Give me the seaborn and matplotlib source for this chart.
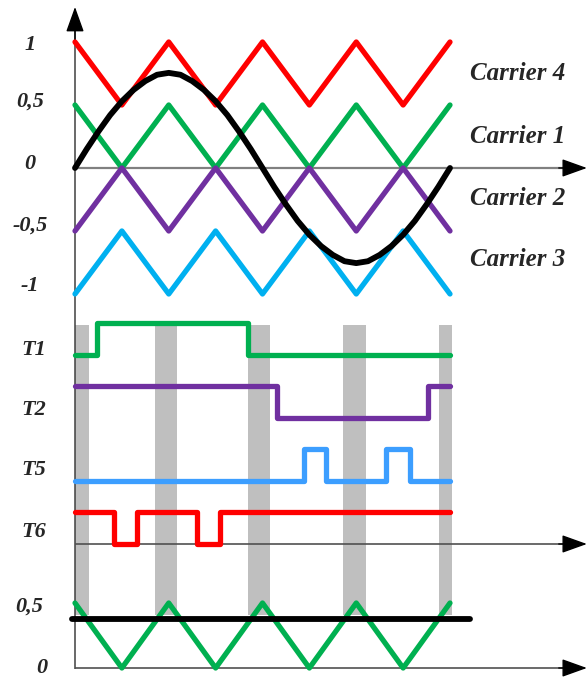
import matplotlib
matplotlib.use("Agg")
import matplotlib.pyplot as plt
import seaborn as sns

# ==========================================
# DATA (time in carrier periods)
# ==========================================
# carrier vertices, one every half period
t_carrier = [0, 0.5, 1, 1.5, 2, 2.5, 3, 3.5, 4]
carrier4 = [1, 0.5, 1, 0.5, 1, 0.5, 1, 0.5, 1]
carrier1 = [0.5, 0, 0.5, 0, 0.5, 0, 0.5, 0, 0.5]
carrier2 = [-0.5, 0, -0.5, 0, -0.5, 0, -0.5, 0, -0.5]
carrier3 = [-1, -0.5, -1, -0.5, -1, -0.5, -1, -0.5, -1]

# reference wave, read every 1/8 period
t_ref = [0, 0.125, 0.25, 0.375, 0.5, 0.625, 0.75, 0.875, 1,
         1.125, 1.25, 1.375, 1.5, 1.625, 1.75, 1.875, 2,
         2.125, 2.25, 2.375, 2.5, 2.625, 2.75, 2.875, 3,
         3.125, 3.25, 3.375, 3.5, 3.625, 3.75, 3.875, 4]
ref_wave = [0, 0.15, 0.29, 0.42, 0.53, 0.62, 0.69, 0.74, 0.755,
            0.74, 0.69, 0.62, 0.53, 0.42, 0.29, 0.15, 0,
            -0.15, -0.29, -0.42, -0.53, -0.62, -0.69, -0.74, -0.755,
            -0.74, -0.69, -0.62, -0.53, -0.42, -0.29, -0.15, 0]

# switching signals (switch instants, state after the instant)
t1_time = [0, 0.235, 1.845, 4.0]
t1_state = [0, 1, 0, 0]
t2_time = [0, 2.155, 3.765, 4.0]
t2_state = [1, 0, 1, 1]
t5_time = [0, 2.443, 2.677, 3.317, 3.573, 4.0]
t5_state = [0, 1, 0, 1, 0, 0]
t6_time = [0, 0.416, 0.661, 1.30, 1.547, 4.0]
t6_state = [1, 0, 1, 0, 1, 1]

# shaded intervals
band_start = [0, 0.853, 1.845, 2.859, 3.883]
band_end = [0.149, 1.088, 2.08, 3.104, 4.02]

# bottom panel: carrier and constant reference
bottom_carrier = [0.5, 0, 0.5, 0, 0.5, 0, 0.5, 0, 0.5]
dc_level = 0.377
dc_time = [-0.03, 4.21]

top_ticks = ['1', '0,5', '0', '-0,5', '-1']
top_tick_pos = [0.98, 0.53, 0.03, -0.46, -0.94]
carrier_names = ['Carrier 4', 'Carrier 1', 'Carrier 2', 'Carrier 3']
carrier_label_pos = [0.75, 0.25, -0.24, -0.73]
signal_names = ['T1', 'T2', 'T5', 'T6']
signal_base = [6, 4, 2, 0]
signal_label_pos = [6.15, 4.25, 2.35, 0.38]

# ==========================================
# STYLE
# ==========================================
sns.set_style('white')
RED = '#FF0000'
GREEN = '#00B050'
PURPLE = '#7030A0'
CYAN = '#00B0F0'
BLUE = '#3C9EFF'
GRAY_BAND = '#BFBFBF'
FONT = dict(family=['Liberation Serif', 'DejaVu Serif'], weight='bold', style='italic')

XLIM = (-0.8, 5.472)
ARROW_TIP = 5.46
LW = 3.8
line_kw = dict(estimator=None, sort=False, solid_capstyle='round', solid_joinstyle='round')


def arrow(ax, tip, start):
    ax.annotate('', xy=tip, xytext=start,
                arrowprops=dict(arrowstyle='-|>,head_length=0.78,head_width=0.28',
                                mutation_scale=20, color='black', lw=1,
                                shrinkA=0, shrinkB=0))


fig = plt.figure(figsize=(5.88, 6.8), dpi=100)
ax_top = fig.add_axes([0, 0.5515, 1, 0.4485])
ax_mid = fig.add_axes([0, 0.17647, 1, 0.375])
ax_bot = fig.add_axes([0, 0, 1, 0.17647])

for ax in (ax_top, ax_mid, ax_bot):
    ax.set_axis_off()
    ax.set_xlim(*XLIM)

ax_top.set_ylim(-1.0873, 1.3333)
ax_mid.set_ylim(-0.508, 7.587)
ax_bot.set_ylim(-0.0923, 0.8308)

# ---------- top panel: carriers and reference ----------
ax_top.hlines(0, 0, ARROW_TIP - 0.2, color='#808080', lw=1.6, zorder=1)
arrow(ax_top, (ARROW_TIP, 0), (ARROW_TIP - 0.3, 0))
ax_top.vlines(0, -1.0873, 1.15, color='#404040', lw=1.1, zorder=1)
arrow(ax_top, (0, 1.278), (0, 1.0))

for vals, col in zip([carrier4, carrier1, carrier2, carrier3], [RED, GREEN, PURPLE, CYAN]):
    sns.lineplot(x=t_carrier, y=vals, color=col, lw=LW, ax=ax_top, zorder=3, **line_kw)
sns.lineplot(x=t_ref, y=ref_wave, color='black', lw=LW + 0.4, ax=ax_top, zorder=4, **line_kw)

for lab, y in zip(top_ticks, top_tick_pos):
    ax_top.text(-0.48, y, lab, ha='center', va='center', fontsize=16, **FONT)
for lab, y in zip(carrier_names, carrier_label_pos):
    ax_top.text(4.213, y, lab, ha='left', va='center', fontsize=18, **FONT)

# ---------- middle panel: gate signals ----------
for s, e in zip(band_start, band_end):
    ax_mid.fill_between([s, e], -0.508, 6.952, color=GRAY_BAND, lw=0, zorder=0)
ax_mid.axvline(0, color='#404040', lw=1.1, zorder=1)
ax_mid.hlines(0, 0, ARROW_TIP - 0.2, color='#505050', lw=1.2, zorder=1)
arrow(ax_mid, (ARROW_TIP, 0), (ARROW_TIP - 0.3, 0))

for times, states, base, col in zip([t1_time, t2_time, t5_time, t6_time],
                                    [t1_state, t2_state, t5_state, t6_state],
                                    signal_base, [GREEN, PURPLE, BLUE, RED]):
    sns.lineplot(x=times, y=[base + s for s in states], color=col, lw=LW,
                 drawstyle='steps-post', ax=ax_mid, zorder=3, **line_kw)

for lab, y in zip(signal_names, signal_label_pos):
    ax_mid.text(-0.44, y, lab, ha='center', va='center', fontsize=16, **FONT)

# ---------- bottom panel ----------
for s, e in zip(band_start, band_end):
    ax_bot.fill_between([s, e], 0.41, 0.8308, color=GRAY_BAND, lw=0, zorder=0)
ax_bot.vlines(0, -0.005, 0.8308, color='#404040', lw=1.1, zorder=1)
ax_bot.hlines(0, 0, ARROW_TIP - 0.2, color='#505050', lw=1.2, zorder=1)
arrow(ax_bot, (ARROW_TIP, 0), (ARROW_TIP - 0.3, 0))

sns.lineplot(x=t_carrier, y=bottom_carrier, color=GREEN, lw=LW, ax=ax_bot, zorder=3, **line_kw)
sns.lineplot(x=dc_time, y=[dc_level, dc_level], color='black', lw=LW + 0.4, ax=ax_bot, zorder=4, **line_kw)

ax_bot.text(-0.49, 0.47, '0,5', ha='center', va='center', fontsize=16, **FONT)
ax_bot.text(-0.35, 0.0, '0', ha='center', va='center', fontsize=16, **FONT)

fig.savefig('out.png', dpi=100)
plt.close(fig)
